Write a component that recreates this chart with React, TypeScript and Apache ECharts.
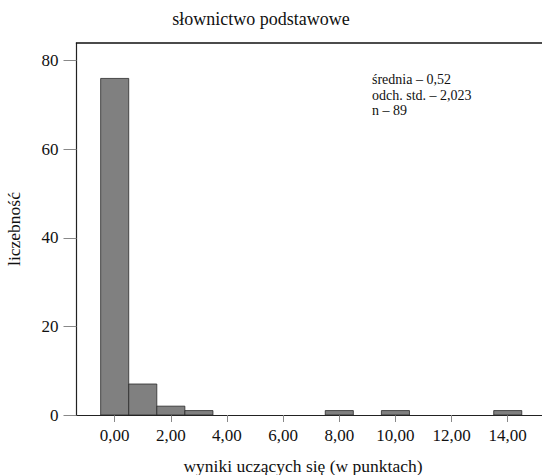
import React, { useEffect, useRef } from "react";
import * as echarts from "echarts";

const binCenters = [0, 1, 2, 3, 8, 10, 14];
const binCounts = [76, 7, 2, 1, 1, 1, 1];
const xTickValues = [0, 2, 4, 6, 8, 10, 12, 14];
const yTickValues = [0, 20, 40, 60, 80];
const statsLines = ["średnia – 0,52", "odch. std. – 2,023", "n – 89"];
const titleText = "słownictwo podstawowe";
const xName = "wyniki uczących się (w punktach)";
const yName = "liczebność";

const FONT = "'Liberation Serif', 'Times New Roman', 'DejaVu Serif', serif";

export default function App() {
  const ref = useRef<HTMLDivElement>(null);
  useEffect(() => {
    if (!ref.current) return;
    const chart = echarts.init(ref.current, undefined, { renderer: "svg" });
    const data = binCenters.map((c, i) => [c, binCounts[i]]);
    chart.setOption({
      animation: false,
      backgroundColor: "#ffffff",
      title: {
        text: titleText,
        left: 256,
        top: 5,
        textAlign: "center",
        textStyle: { fontFamily: FONT, fontSize: 18, fontWeight: "normal", color: "#111" },
      },
      grid: { left: 76.5, right: 0, top: 43, bottom: 60 },
      xAxis: [
        {
          type: "value",
          min: -1.36,
          max: 15.22,
          axisLine: { show: true, onZero: false, lineStyle: { color: "#222", width: 1.2 } },
          axisTick: { show: true, length: 7, lineStyle: { color: "#888" }, customValues: xTickValues },
          axisLabel: {
            customValues: xTickValues,
            formatter: (v: number) => v.toFixed(2).replace(".", ","),
            fontFamily: FONT,
            fontSize: 17,
            color: "#111",
            margin: 12,
          },
          splitLine: { show: false },
        },
        {
          type: "value",
          position: "top",
          min: -1.36,
          max: 15.22,
          axisLine: { show: true, onZero: false, lineStyle: { color: "#111", width: 1.6 } },
          axisTick: { show: false },
          axisLabel: { show: false },
          splitLine: { show: false },
        },
      ],
      yAxis: {
        type: "value",
        min: 0,
        max: 84,
        axisLine: { show: true, onZero: false, lineStyle: { color: "#222", width: 1.2 } },
        axisTick: { show: true, length: 13, lineStyle: { color: "#888" }, customValues: yTickValues },
        axisLabel: {
          customValues: yTickValues,
          fontFamily: FONT,
          fontSize: 17,
          color: "#111",
          margin: 18,
        },
        splitLine: { show: false },
      },
      graphic: [
        {
          type: "text",
          left: 372,
          top: 72,
          style: {
            text: statsLines.join("\n"),
            font: `14px ${FONT}`,
            lineHeight: 15.5,
            fill: "#111",
          },
        },
        {
          type: "text",
          x: 303,
          y: 466,
          style: {
            text: xName,
            font: `17.5px ${FONT}`,
            fill: "#111",
            align: "center",
            verticalAlign: "middle",
          },
        },
        {
          type: "text",
          x: 14,
          y: 229,
          rotation: Math.PI / 2,
          style: {
            text: yName,
            font: `17.5px ${FONT}`,
            fill: "#111",
            align: "center",
            verticalAlign: "middle",
          },
        },
      ],
      series: [
        {
          type: "custom",
          xAxisIndex: 0,
          yAxisIndex: 0,
          data,
          renderItem: (params: any, api: any) => {
            const c = api.value(0);
            const v = api.value(1);
            const p0 = api.coord([c - 0.5, v]);
            const p1 = api.coord([c + 0.5, 0]);
            return {
              type: "rect",
              shape: { x: p0[0], y: p0[1], width: p1[0] - p0[0], height: p1[1] - p0[1] },
              style: { fill: "#808080", stroke: "#2a2a2a", lineWidth: 0.8 },
            };
          },
        },
      ],
    });
    return () => chart.dispose();
  }, []);
  return (
    <div
      ref={ref}
      style={{ position: "fixed", left: 0, top: 0, width: 542, height: 475, background: "#fff" }}
    />
  );
}
